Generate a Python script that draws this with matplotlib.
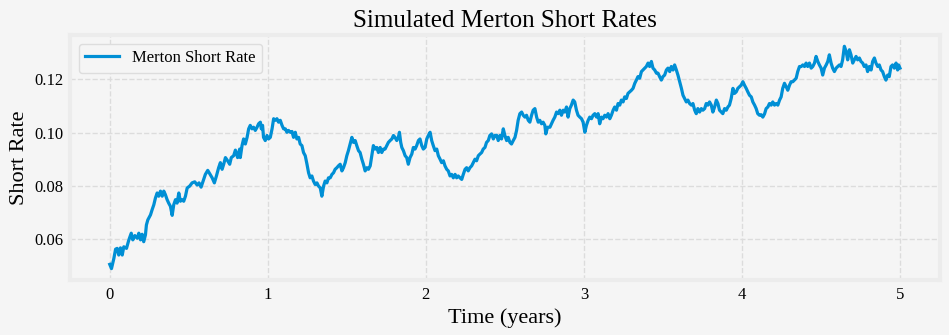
"""
Simulated Merton short-rate path, traced from the reference picture.
"""
import matplotlib
matplotlib.use("Agg")
import matplotlib.pyplot as plt
from matplotlib.ticker import FormatStrFormatter

# time in years and short rate
years = [
    0.000, 0.011, 0.026, 0.037, 0.047, 0.057, 0.068, 0.079, 0.089, 0.106,
    0.121, 0.136, 0.146, 0.159, 0.174, 0.184, 0.195, 0.205, 0.215, 0.226,
    0.232, 0.241, 0.258, 0.268, 0.279, 0.289, 0.300, 0.310, 0.321, 0.332,
    0.342, 0.352, 0.363, 0.373, 0.384, 0.395, 0.405, 0.416, 0.426, 0.437,
    0.447, 0.458, 0.468, 0.479, 0.490, 0.506, 0.521, 0.538, 0.553, 0.565,
    0.578, 0.591, 0.605, 0.620, 0.632, 0.648, 0.662, 0.675, 0.689, 0.700,
    0.711, 0.721, 0.732, 0.746, 0.759, 0.769, 0.784, 0.795, 0.809, 0.822,
    0.826, 0.837, 0.847, 0.858, 0.869, 0.879, 0.889, 0.900, 0.910, 0.921,
    0.932, 0.942, 0.953, 0.959, 0.967, 0.973, 0.984, 0.995, 1.005, 1.016,
    1.027, 1.037, 1.047, 1.058, 1.068, 1.079, 1.090, 1.100, 1.111, 1.121,
    1.131, 1.142, 1.153, 1.163, 1.174, 1.184, 1.195, 1.205, 1.216, 1.226,
    1.237, 1.248, 1.258, 1.268, 1.279, 1.289, 1.300, 1.311, 1.321, 1.332,
    1.342, 1.353, 1.363, 1.374, 1.384, 1.395, 1.406, 1.416, 1.426, 1.437,
    1.447, 1.458, 1.469, 1.479, 1.490, 1.500, 1.510, 1.521, 1.532, 1.542,
    1.553, 1.563, 1.574, 1.584, 1.595, 1.605, 1.616, 1.627, 1.637, 1.648,
    1.658, 1.668, 1.679, 1.690, 1.700, 1.711, 1.721, 1.732, 1.742, 1.753,
    1.763, 1.774, 1.785, 1.795, 1.805, 1.816, 1.826, 1.833, 1.841, 1.848,
    1.858, 1.869, 1.879, 1.889, 1.900, 1.911, 1.921, 1.932, 1.942, 1.953,
    1.963, 1.974, 1.984, 1.995, 2.006, 2.016, 2.027, 2.037, 2.047, 2.058,
    2.069, 2.079, 2.090, 2.100, 2.111, 2.121, 2.132, 2.142, 2.153, 2.163,
    2.174, 2.185, 2.195, 2.205, 2.216, 2.227, 2.237, 2.248, 2.258, 2.268,
    2.279, 2.290, 2.300, 2.311, 2.321, 2.332, 2.342, 2.353, 2.363, 2.374,
    2.384, 2.395, 2.405, 2.416, 2.427, 2.437, 2.448, 2.458, 2.469, 2.479,
    2.490, 2.500, 2.511, 2.521, 2.532, 2.542, 2.553, 2.564, 2.574, 2.584,
    2.595, 2.606, 2.616, 2.627, 2.637, 2.648, 2.658, 2.669, 2.679, 2.690,
    2.701, 2.711, 2.721, 2.732, 2.742, 2.753, 2.759, 2.770, 2.785, 2.795,
    2.805, 2.816, 2.827, 2.837, 2.848, 2.858, 2.869, 2.879, 2.890, 2.900,
    2.911, 2.921, 2.932, 2.942, 2.953, 2.963, 2.974, 2.985, 2.995, 3.006,
    3.016, 3.027, 3.037, 3.048, 3.058, 3.069, 3.080, 3.090, 3.100, 3.111,
    3.121, 3.132, 3.143, 3.153, 3.164, 3.174, 3.185, 3.195, 3.206, 3.216,
    3.227, 3.237, 3.248, 3.258, 3.269, 3.279, 3.290, 3.301, 3.311, 3.322,
    3.332, 3.342, 3.353, 3.364, 3.374, 3.385, 3.395, 3.406, 3.416, 3.427,
    3.437, 3.448, 3.459, 3.469, 3.479, 3.490, 3.500, 3.511, 3.522, 3.532,
    3.543, 3.553, 3.564, 3.574, 3.585, 3.595, 3.606, 3.617, 3.627, 3.637,
    3.648, 3.658, 3.669, 3.680, 3.690, 3.701, 3.711, 3.721, 3.732, 3.743,
    3.753, 3.764, 3.774, 3.785, 3.795, 3.806, 3.816, 3.827, 3.838, 3.848,
    3.858, 3.869, 3.879, 3.890, 3.901, 3.911, 3.921, 3.932, 3.943, 3.953,
    3.964, 3.974, 3.985, 3.995, 4.006, 4.016, 4.027, 4.037, 4.048, 4.059,
    4.069, 4.080, 4.090, 4.100, 4.111, 4.122, 4.132, 4.143, 4.153, 4.164,
    4.174, 4.185, 4.195, 4.206, 4.217, 4.227, 4.238, 4.248, 4.258, 4.269,
    4.280, 4.290, 4.301, 4.311, 4.322, 4.332, 4.343, 4.353, 4.364, 4.375,
    4.385, 4.396, 4.406, 4.416, 4.427, 4.438, 4.448, 4.459, 4.469, 4.480,
    4.490, 4.501, 4.511, 4.522, 4.533, 4.543, 4.553, 4.564, 4.574, 4.585,
    4.596, 4.606, 4.617, 4.627, 4.637, 4.648, 4.659, 4.669, 4.680, 4.690,
    4.701, 4.711, 4.722, 4.732, 4.743, 4.753, 4.764, 4.774, 4.785, 4.795,
    4.806, 4.817, 4.827, 4.838, 4.848, 4.859, 4.869, 4.880, 4.890, 4.901,
    4.911, 4.922, 4.932, 4.943, 4.953, 4.964, 4.975, 4.985, 4.991, 5.000,
]
short_rate = [
    0.0505, 0.0489, 0.0527, 0.0562, 0.0565, 0.0540, 0.0567, 0.0540, 0.0571, 0.0565,
    0.0597, 0.0622, 0.0597, 0.0613, 0.0603, 0.0622, 0.0597, 0.0618, 0.0590, 0.0616,
    0.0653, 0.0672, 0.0691, 0.0710, 0.0729, 0.0754, 0.0773, 0.0761, 0.0780, 0.0761,
    0.0780, 0.0767, 0.0748, 0.0735, 0.0723, 0.0689, 0.0729, 0.0748, 0.0735, 0.0773,
    0.0742, 0.0748, 0.0742, 0.0761, 0.0792, 0.0799, 0.0811, 0.0815, 0.0803, 0.0811,
    0.0795, 0.0818, 0.0843, 0.0858, 0.0846, 0.0830, 0.0811, 0.0837, 0.0868, 0.0887,
    0.0862, 0.0881, 0.0906, 0.0894, 0.0881, 0.0906, 0.0913, 0.0934, 0.0906, 0.0938,
    0.0906, 0.0951, 0.0976, 0.0957, 0.0982, 0.1014, 0.1027, 0.1014, 0.1020, 0.1008,
    0.1020, 0.1033, 0.1039, 0.1014, 0.1027, 0.0982, 0.0970, 0.0989, 0.0976, 0.0982,
    0.1014, 0.1052, 0.1046, 0.1052, 0.1039, 0.1046, 0.1027, 0.1014, 0.1014, 0.1001,
    0.1008, 0.1001, 0.1004, 0.0982, 0.1001, 0.0976, 0.0982, 0.0957, 0.0951, 0.0925,
    0.0913, 0.0881, 0.0849, 0.0830, 0.0837, 0.0818, 0.0805, 0.0811, 0.0799, 0.0792,
    0.0761, 0.0799, 0.0818, 0.0811, 0.0830, 0.0830, 0.0843, 0.0849, 0.0862, 0.0868,
    0.0875, 0.0881, 0.0856, 0.0868, 0.0887, 0.0913, 0.0932, 0.0957, 0.0982, 0.0963,
    0.0970, 0.0951, 0.0932, 0.0925, 0.0900, 0.0881, 0.0856, 0.0868, 0.0862, 0.0875,
    0.0913, 0.0951, 0.0938, 0.0944, 0.0925, 0.0944, 0.0925, 0.0938, 0.0938, 0.0951,
    0.0963, 0.0970, 0.0976, 0.0989, 0.0982, 0.0970, 0.0982, 0.1001, 0.0963, 0.0944,
    0.0932, 0.0913, 0.0906, 0.0881, 0.0906, 0.0919, 0.0944, 0.0938, 0.0951, 0.0970,
    0.0976, 0.0951, 0.0938, 0.0944, 0.0976, 0.0989, 0.1001, 0.0970, 0.0951, 0.0932,
    0.0938, 0.0913, 0.0900, 0.0887, 0.0894, 0.0875, 0.0862, 0.0856, 0.0837, 0.0843,
    0.0830, 0.0843, 0.0830, 0.0837, 0.0830, 0.0824, 0.0843, 0.0862, 0.0868, 0.0856,
    0.0868, 0.0875, 0.0887, 0.0900, 0.0894, 0.0913, 0.0919, 0.0925, 0.0938, 0.0944,
    0.0963, 0.0970, 0.0989, 0.0995, 0.0976, 0.0989, 0.0990, 0.0970, 0.0989, 0.0976,
    0.1014, 0.0989, 0.0970, 0.0982, 0.0963, 0.0957, 0.0970, 0.0982, 0.1008, 0.1046,
    0.1071, 0.1077, 0.1065, 0.1058, 0.1065, 0.1046, 0.1039, 0.1065, 0.1084, 0.1090,
    0.1058, 0.1039, 0.1046, 0.1033, 0.1039, 0.1027, 0.0995, 0.1020, 0.1020, 0.1033,
    0.1046, 0.1058, 0.1077, 0.1071, 0.1084, 0.1065, 0.1084, 0.1077, 0.1096, 0.1058,
    0.1090, 0.1103, 0.1122, 0.1115, 0.1084, 0.1065, 0.1058, 0.1052, 0.1039, 0.1001,
    0.1027, 0.1046, 0.1058, 0.1052, 0.1065, 0.1071, 0.1058, 0.1071, 0.1033, 0.1058,
    0.1052, 0.1065, 0.1058, 0.1071, 0.1052, 0.1065, 0.1084, 0.1096, 0.1084, 0.1109,
    0.1103, 0.1122, 0.1115, 0.1134, 0.1128, 0.1147, 0.1153, 0.1159, 0.1166, 0.1185,
    0.1197, 0.1210, 0.1204, 0.1229, 0.1235, 0.1242, 0.1248, 0.1261, 0.1248, 0.1267,
    0.1242, 0.1235, 0.1223, 0.1223, 0.1210, 0.1197, 0.1210, 0.1216, 0.1235, 0.1242,
    0.1229, 0.1248, 0.1235, 0.1254, 0.1235, 0.1216, 0.1191, 0.1166, 0.1140, 0.1128,
    0.1115, 0.1122, 0.1109, 0.1103, 0.1109, 0.1084, 0.1071, 0.1090, 0.1077, 0.1090,
    0.1084, 0.1090, 0.1109, 0.1103, 0.1115, 0.1103, 0.1077, 0.1096, 0.1122, 0.1109,
    0.1084, 0.1077, 0.1071, 0.1090, 0.1084, 0.1096, 0.1103, 0.1128, 0.1166, 0.1147,
    0.1153, 0.1166, 0.1172, 0.1178, 0.1191, 0.1178, 0.1166, 0.1153, 0.1140, 0.1134,
    0.1115, 0.1103, 0.1090, 0.1071, 0.1065, 0.1067, 0.1058, 0.1070, 0.1090, 0.1096,
    0.1109, 0.1103, 0.1115, 0.1103, 0.1109, 0.1103, 0.1122, 0.1134, 0.1166, 0.1185,
    0.1172, 0.1159, 0.1178, 0.1191, 0.1191, 0.1197, 0.1204, 0.1229, 0.1248, 0.1248,
    0.1254, 0.1248, 0.1261, 0.1248, 0.1261, 0.1242, 0.1248, 0.1261, 0.1286, 0.1267,
    0.1254, 0.1242, 0.1216, 0.1242, 0.1254, 0.1267, 0.1292, 0.1261, 0.1242, 0.1229,
    0.1242, 0.1248, 0.1254, 0.1248, 0.1273, 0.1324, 0.1305, 0.1273, 0.1311, 0.1292,
    0.1261, 0.1273, 0.1286, 0.1273, 0.1280, 0.1267, 0.1261, 0.1248, 0.1254, 0.1229,
    0.1248, 0.1235, 0.1267, 0.1280, 0.1261, 0.1248, 0.1254, 0.1235, 0.1229, 0.1210,
    0.1197, 0.1216, 0.1210, 0.1248, 0.1254, 0.1242, 0.1261, 0.1235, 0.1254, 0.1242,
]

BG = "#f5f5f5"
LINE_COLOR = "#008fd5"

plt.rcParams["font.family"] = ["Liberation Serif", "DejaVu Serif"]

fig, ax = plt.subplots(figsize=(9.49, 3.35), dpi=100)
fig.patch.set_facecolor(BG)
ax.set_facecolor(BG)

ax.plot(years, short_rate, color=LINE_COLOR, linewidth=2.3, label="Merton Short Rate")

ax.grid(True, linestyle="--", color="#dcdcdc", linewidth=1.0)
ax.set_axisbelow(True)
for sp in ax.spines.values():
    sp.set_color("#ececec")
    sp.set_linewidth(3)
ax.tick_params(length=0, labelsize=12, pad=5)
ax.yaxis.set_major_formatter(FormatStrFormatter("%.2f"))
ax.set_yticks([0.06, 0.08, 0.10, 0.12])
ax.set_xticks([0, 1, 2, 3, 4, 5])

ax.set_title("Simulated Merton Short Rates", fontsize=18)
ax.set_xlabel("Time (years)", fontsize=16)
ax.set_ylabel("Short Rate", fontsize=16)
ax.legend(loc="upper left", fontsize=12, facecolor=BG, edgecolor="#dddddd",
          framealpha=1.0)

fig.subplots_adjust(left=0.074, right=0.99, top=0.895, bottom=0.165)
fig.savefig("out.png", dpi=100, facecolor=BG)
